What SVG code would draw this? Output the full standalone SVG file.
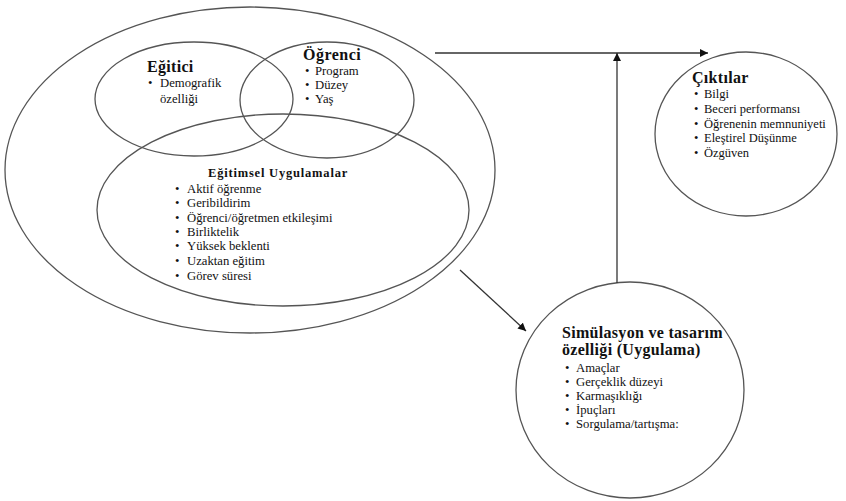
<svg xmlns="http://www.w3.org/2000/svg" width="846" height="501" viewBox="0 0 846 501">
<defs>
<style>
text{font-family:"Liberation Serif","Times New Roman",serif;fill:#111}
.sh{fill:none;stroke:#555;stroke-width:1.3}
.h{font-weight:bold}
.i{font-size:12.7px}
.c{stroke:#333;stroke-width:1.3;fill:none}
</style>
<marker id="ah" viewBox="0 0 10 10" refX="10" refY="5" markerWidth="8" markerHeight="8" markerUnits="userSpaceOnUse" orient="auto">
<path d="M0,0 L10,5 L0,10 z" fill="#111"/>
</marker>
</defs>
<rect width="846" height="501" fill="#fff"/>
<g id="outer"><ellipse class="sh" cx="250" cy="170" rx="245" ry="163"/></g>
<g id="egitici">
<ellipse class="sh" cx="194" cy="99" rx="99" ry="57"/>
<text class="h" x="147" y="72" font-size="16" letter-spacing="0.3">Eğitici</text>
<g class="i">
<text x="148" y="87">•</text>
<text x="160" y="87">Demografik</text>
<text x="160" y="103">özelliği</text>
</g>
</g>
<g id="ogrenci">
<ellipse class="sh" cx="327" cy="100" rx="87" ry="58"/>
<text class="h" x="303" y="60" font-size="16" letter-spacing="0.5">Öğrenci</text>
<g class="i">
<text x="305" y="75">•</text><text x="315" y="75">Program</text>
<text x="305" y="89">•</text><text x="315" y="89">Düzey</text>
<text x="305" y="103">•</text><text x="315" y="103">Yaş</text>
</g>
</g>
<g id="egitimsel">
<ellipse class="sh" cx="283" cy="210" rx="186" ry="96"/>
<text class="h" x="208" y="177" font-size="12.5" letter-spacing="0.8">Eğitimsel Uygulamalar</text>
<g class="i">
<text x="175" y="193">•</text><text x="187" y="193">Aktif öğrenme</text>
<text x="175" y="207">•</text><text x="187" y="207">Geribildirim</text>
<text x="175" y="222">•</text><text x="187" y="222">Öğrenci/öğretmen etkileşimi</text>
<text x="175" y="236">•</text><text x="187" y="236">Birliktelik</text>
<text x="175" y="250">•</text><text x="187" y="250">Yüksek beklenti</text>
<text x="175" y="265">•</text><text x="187" y="265">Uzaktan eğitim</text>
<text x="175" y="280">•</text><text x="187" y="280">Görev süresi</text>
</g>
</g>
<g id="ciktilar">
<ellipse class="sh" cx="746" cy="134" rx="91" ry="82"/>
<text class="h" x="692" y="83" font-size="16" letter-spacing="0.3">Çıktılar</text>
<g font-size="12.5">
<text x="694" y="98">•</text><text x="704" y="98">Bilgi</text>
<text x="694" y="113">•</text><text x="704" y="113">Beceri performansı</text>
<text x="694" y="128">•</text><text x="704" y="128">Öğrenenin memnuniyeti</text>
<text x="694" y="142">•</text><text x="704" y="142">Eleştirel Düşünme</text>
<text x="694" y="157">•</text><text x="704" y="157">Özgüven</text>
</g>
</g>
<g id="simulasyon">
<ellipse class="sh" cx="630" cy="390" rx="114" ry="108"/>
<text class="h" x="562" y="338" font-size="16" letter-spacing="0.3">Simülasyon ve tasarım</text>
<text class="h" x="562" y="355" font-size="16" letter-spacing="0.3">özelliği (Uygulama)</text>
<g class="i">
<text x="565" y="372">•</text><text x="576" y="372">Amaçlar</text>
<text x="565" y="386">•</text><text x="576" y="386">Gerçeklik düzeyi</text>
<text x="565" y="400">•</text><text x="576" y="400">Karmaşıklığı</text>
<text x="565" y="414">•</text><text x="576" y="414">İpuçları</text>
<text x="565" y="428">•</text><text x="576" y="428">Sorgulama/tartışma:</text>
</g>
</g>
<g id="connectors">
<line class="c" x1="435" y1="53" x2="708" y2="53" marker-end="url(#ah)"/>
<line class="c" x1="617" y1="283" x2="617" y2="53" marker-end="url(#ah)"/>
<line class="c" x1="460" y1="270" x2="526" y2="331" marker-end="url(#ah)"/>
</g>
</svg>
